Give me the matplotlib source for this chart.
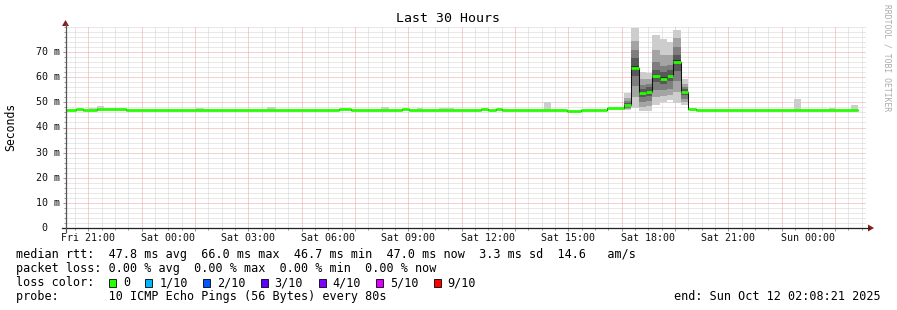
import matplotlib
matplotlib.use("Agg")
import matplotlib.pyplot as plt
import numpy as np
from matplotlib.lines import Line2D
from matplotlib.patches import Polygon, Rectangle
from matplotlib.transforms import blended_transform_factory

# ---- data (times are hours since Fri 00:00, values in ms) ----
T_START = 20 + 8 / 60 + 21 / 3600          # Fri 20:08:21
T_END = T_START + 30                        # Sun 02:08:21

# median rtt as a step series: value[i] holds from edge[i] to edge[i+1]
median_edges = [T_START, 20.551, 20.814, 21.339, 22.426, 30.414, 30.864, 32.776, 33.039,
                35.739, 36.001, 36.301, 36.526, 38.964, 39.489, 40.464, 41.09, 41.364,
                41.638, 41.90, 42.15, 42.425, 42.687, 42.938, 43.212, 43.49, 43.79, 49.876]
median_vals = [47.0, 47.4, 47.0, 47.4, 47.0, 47.4, 47.0, 47.4, 47.0,
               47.4, 47.0, 47.4, 47.0, 46.6, 47.0, 47.6, 48.9, 63.8,
               53.6, 54.0, 60.5, 59.5, 60.5, 66.1, 54.0, 47.4, 47.0]

# smoke during the spike: 10 sorted pings per step
smoke_edges = [41.09, 41.364, 41.638, 41.90, 42.15, 42.425, 42.687, 42.938, 43.212, 43.49]
smoke_pings = [
    [46.9, 47.3, 47.8, 48.3, 48.7, 49.1, 49.6, 50.5, 51.8, 53.6],
    [47.6, 52.0, 56.5, 60.5, 63.0, 64.6, 67.5, 71.0, 74.5, 79.7],
    [46.5, 48.0, 50.0, 52.0, 53.2, 54.0, 55.5, 57.0, 59.5, 62.2],
    [46.7, 48.5, 50.5, 52.5, 53.6, 54.4, 56.0, 57.5, 59.5, 61.5],
    [48.9, 52.0, 55.0, 58.0, 60.0, 61.0, 63.0, 66.0, 71.0, 77.0],
    [50.0, 52.5, 55.0, 57.5, 59.0, 60.0, 62.0, 64.5, 69.0, 75.4],
    [50.9, 53.0, 55.5, 58.5, 60.0, 61.0, 63.0, 65.0, 69.0, 74.0],
    [49.6, 54.0, 58.5, 62.5, 65.5, 66.7, 69.0, 72.0, 75.5, 78.8],
    [48.9, 50.2, 51.5, 52.8, 53.7, 54.3, 55.2, 56.2, 57.5, 59.5],
]

# single slow pings on the quiet baseline
bump_t0 = [21.039, 21.339, 25.051, 27.714, 31.989, 33.339, 34.164, 38.101, 47.476, 48.789, 49.614]
bump_t1 = [21.339, 21.601, 25.351, 28.051, 32.289, 33.564, 34.726, 38.364, 47.739, 49.051, 49.876]
bump_hi = [47.7, 48.5, 47.8, 48.3, 48.0, 47.7, 47.7, 50.0, 51.3, 47.9, 48.9]
BASE = 47.0

label_hours = [21, 24, 27, 30, 33, 36, 39, 42, 45, 48]
label_texts = ["Fri 21:00", "Sat 00:00", "Sat 03:00", "Sat 06:00", "Sat 09:00",
               "Sat 12:00", "Sat 15:00", "Sat 18:00", "Sat 21:00", "Sun 00:00"]
y_ticks = [0, 10, 20, 30, 40, 50, 60, 70]
y_texts = ["0", "10 m", "20 m", "30 m", "40 m", "50 m", "60 m", "70 m"]

loss_labels = ["0", "1/10", "2/10", "3/10", "4/10", "5/10", "9/10"]
loss_colors = ["#26ff00", "#00b8ff", "#0059ff", "#5e00ff", "#7e00ff", "#dd00ff", "#ff0000"]

SMOKE_SHADES = ["#cdcdcd", "#a4a4a4", "#7e7e7e", "#585858", "#323232"]
GREEN = "#26ff00"
MONO = "DejaVu Sans Mono"

W, H, DPI = 897, 310, 100
X0, X1, YB, YT = 65.5, 865.5, 228, 27


def fx(x):
    return x / W


def fy(y):
    return 1 - y / H


fig = plt.figure(figsize=(W / DPI, H / DPI), dpi=DPI, facecolor="white")
ax = fig.add_axes([fx(X0), fy(YB), (X1 - X0) / W, (YB - YT) / H])
ax.set_xlim(T_START, T_END)
ax.set_ylim(0, 80)
for s in ax.spines.values():
    s.set_visible(False)
ax.set_facecolor("white")

# grid, dotted
minor_x = np.arange(20.5, T_END, 0.5)
major_x = np.arange(21, T_END, 2)
minor_y = np.arange(2, 81, 2)
major_y = np.arange(10, 80, 10)
dot = (0, (1, 1))
grid_kw = dict(lw=0.72, linestyles=dot)
ax.vlines([v for v in minor_x if v not in major_x], 0, 80, colors="#d2d2d2", zorder=0.5, **grid_kw)
ax.hlines([v for v in minor_y if v not in major_y], T_START, T_END, colors="#d2d2d2", zorder=0.5, **grid_kw)
ax.vlines(major_x, 0, 80, colors="#f2a0a0", zorder=0.6, **grid_kw)
ax.hlines(major_y, T_START, T_END, colors="#f2a0a0", zorder=0.6, **grid_kw)

ax.set_xticks(major_x)
ax.set_xticks(minor_x, minor=True)
ax.set_yticks(major_y)
ax.set_yticks(minor_y, minor=True)
ax.tick_params(which="both", labelbottom=False, labelleft=False, color="#999999", width=0.72)
ax.tick_params(which="major", length=2.2)
ax.tick_params(which="minor", length=1.5)

# smoke
t0 = np.array(bump_t0)
ax.bar(t0, np.array(bump_hi) - BASE, bottom=BASE, width=np.array(bump_t1) - t0,
       align="edge", color=SMOKE_SHADES[0], lw=0, zorder=1)
edges = np.array(smoke_edges)
pings = np.array(smoke_pings)
for k, shade in enumerate(SMOKE_SHADES):
    lo = pings[:, k]
    hi = pings[:, 9 - k]
    ax.bar(edges[:-1], hi - lo, bottom=lo, width=np.diff(edges), align="edge",
           color=shade, lw=0, zorder=1 + k * 0.1)

# median
ax.stairs(median_vals, median_edges, baseline=None, color="#111111", lw=0.75, zorder=3)
ax.hlines(median_vals, median_edges[:-1], median_edges[1:], colors=GREEN, lw=2.0, zorder=4,
          capstyle="butt")

# axis lines and arrows
fig.add_artist(Line2D([fx(61.5), fx(869)], [fy(YB), fy(YB)], color="#222222", lw=0.9))
fig.add_artist(Line2D([fx(X0), fx(X0)], [fy(232), fy(24)], color="#555555", lw=0.9))
fig.add_artist(Polygon([(fx(868), fy(224.5)), (fx(874), fy(YB)), (fx(868), fy(231.5))],
                       closed=True, color="#8b1c1c", lw=0))
fig.add_artist(Polygon([(fx(X0 - 3.5), fy(26)), (fx(X0), fy(20)), (fx(X0 + 3.5), fy(26))],
                       closed=True, color="#8b1c1c", lw=0))

# axis labels
bx = blended_transform_factory(ax.transData, ax.transAxes)
for h, t in zip(label_hours, label_texts):
    ax.text(h, -(238 - YB) / (YB - YT), t, transform=bx, ha="center", va="center",
            family=MONO, fontsize=7.2, color="#111111")
by = blended_transform_factory(ax.transAxes, ax.transData)
for v, t in zip(y_ticks, y_texts):
    xr = 60.5 if t != "0" else 47.8
    ax.text((xr - X0) / (X1 - X0), v, t, transform=by, ha="right", va="center",
            family=MONO, fontsize=7.2, color="#111111")

fig.text(fx(448), fy(19), "Last 30 Hours", ha="center", va="center", family=MONO, fontsize=9.5)
fig.text(fx(11), fy(127), "Seconds", ha="center", va="center", rotation=90, family=MONO, fontsize=8.3)
fig.text(fx(886.5), fy(4.5), "RRDTOOL / TOBI OETIKER", ha="center", va="top", rotation=270,
         family=MONO, fontsize=5.8, color="#aaaaaa")

# legend
LX = 15.5
CW = 7.1
rows = [254.3, 268.3, 282.7, 296.7]
fig.text(fx(LX), fy(rows[0]),
         "median rtt:  47.8 ms avg  66.0 ms max  46.7 ms min  47.0 ms now  3.3 ms sd  14.6   am/s",
         ha="left", va="center", family=MONO, fontsize=8.5)
fig.text(fx(LX), fy(rows[1]), "packet loss: 0.00 % avg  0.00 % max  0.00 % min  0.00 % now",
         ha="left", va="center", family=MONO, fontsize=8.5)
fig.text(fx(LX), fy(rows[2]), "loss color:", ha="left", va="center", family=MONO, fontsize=8.5)
bxp = 109.0
for lab, col in zip(loss_labels, loss_colors):
    fig.add_artist(Rectangle((fx(bxp), fy(rows[2] + 4)), 7 / W, 8 / H, facecolor=col,
                             edgecolor="black", lw=0.6))
    tx = bxp + 14.3
    fig.text(fx(tx - 0.5), fy(rows[2]), lab, ha="left", va="center", family=MONO, fontsize=8.5)
    bxp = tx + len(lab) * CW + 15
fig.text(fx(LX), fy(rows[3]), "probe:       10 ICMP Echo Pings (56 Bytes) every 80s",
         ha="left", va="center", family=MONO, fontsize=8.5)
fig.text(fx(880.5), fy(rows[3]), "end: Sun Oct 12 02:08:21 2025", ha="right", va="center",
         family=MONO, fontsize=8.5)

fig.savefig("out.png", dpi=DPI, facecolor="white")
